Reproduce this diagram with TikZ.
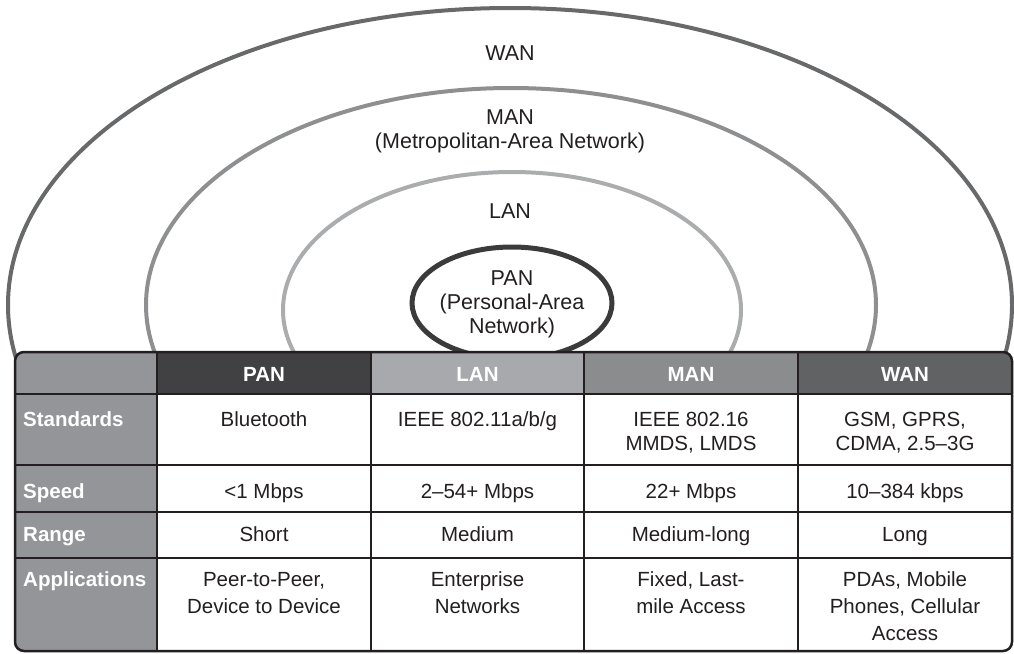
\documentclass[tikz,border=0pt]{standalone}
\usepackage{fontspec}
\setmainfont{Liberation Sans}
\definecolor{wanring}{HTML}{68696B}
\definecolor{manring}{HTML}{8E8F91}
\definecolor{lanring}{HTML}{ABACAE}
\definecolor{panring}{HTML}{3B3B3C}
\definecolor{firstcol}{HTML}{939598}
\definecolor{panhead}{HTML}{414042}
\definecolor{lanhead}{HTML}{A7A9AC}
\definecolor{manhead}{HTML}{8A8C8E}
\definecolor{wanhead}{HTML}{616264}
\definecolor{gridc}{HTML}{231F20}
\definecolor{txt}{HTML}{231F20}
\begin{document}
\begin{tikzpicture}[x=1pt,y=-1pt,
  ring/.style={line width=4pt},
  lbl/.style={anchor=base, inner sep=0pt, align=center, text=txt, font=\fontsize{21.5}{24}\selectfont},
  hdr/.style={anchor=base, inner sep=0pt, text=white, font=\fontsize{20.5}{24}\selectfont\bfseries},
  rowlbl/.style={anchor=base west, inner sep=0pt, text=white, font=\fontsize{20.5}{24}\selectfont\bfseries},
  cell/.style={anchor=base, inner sep=0pt, align=center, text=txt, font=\fontsize{20.5}{24}\selectfont},
  appcell/.style={cell, font=\fontsize{20.5}{27}\selectfont},
  gridline/.style={draw=gridc, line width=2.5pt}]
\useasboundingbox (0,0) rectangle (1014,653);
% rings
\draw[ring, draw=wanring] (510,305) ellipse [x radius=502pt, y radius=297pt];
\draw[ring, draw=manring] (511,305) ellipse [x radius=365pt, y radius=217pt];
\draw[ring, draw=lanring] (512,310) ellipse [x radius=229pt, y radius=138pt];
\draw[line width=5pt, draw=panring, fill=white] (512,303) ellipse [x radius=100pt, y radius=56pt];
% ring labels (anchor = baseline of last line)
\node[lbl] (wanlbl) at (510,60) {WAN};
\node[lbl] (manlbl) at (510,148) {MAN\\(Metropolitan-Area Network)};
\node[lbl] (lanlbl) at (510,218) {LAN};
\node[lbl] (panlbl) at (512,333) {PAN\\(Personal-Area\\Network)};
% table fills
\begin{scope}
\clip[rounded corners=9pt] (15,352) rectangle (1012,651);
\fill[firstcol] (15,352) rectangle (157,651);
\fill[panhead] (157,352) rectangle (371,394);
\fill[lanhead] (371,352) rectangle (584,394);
\fill[manhead] (584,352) rectangle (798,394);
\fill[wanhead] (798,352) rectangle (1012,394);
\fill[white] (157,394) rectangle (1012,651);
\end{scope}
% grid
\foreach \yy in {394,465,512,558} \draw[gridline] (15,\yy) -- (1012,\yy);
\foreach \xx in {157,371,584,798} \draw[gridline] (\xx,352) -- (\xx,651);
\draw[gridline, rounded corners=9pt] (15,352) rectangle (1012,651);
% header
\node[hdr] (hpan) at (264,381) {PAN};
\node[hdr] (hlan) at (477.5,381) {LAN};
\node[hdr] (hman) at (691,381) {MAN};
\node[hdr] (hwan) at (905,381) {WAN};
% row labels
\node[rowlbl] (rstd) at (23,426) {Standards};
\node[rowlbl] (rspd) at (23,498) {Speed};
\node[rowlbl] (rrng) at (23,541) {Range};
\node[rowlbl] (rapp) at (23,586) {Applications};
% standards
\node[cell] (s1) at (264,426) {Bluetooth};
\node[cell] (s2) at (477.5,426) {IEEE 802.11a/b/g};
\node[cell] (s3) at (691,450) {IEEE 802.16\\MMDS, LMDS};
\node[cell] (s4) at (905,450) {GSM, GPRS,\\CDMA, 2.5–3G};
% speed
\node[cell] (p1) at (264,498) {<1 Mbps};
\node[cell] (p2) at (477.5,498) {2–54+ Mbps};
\node[cell] (p3) at (691,498) {22+ Mbps};
\node[cell] (p4) at (905,498) {10–384 kbps};
% range
\node[cell] (g1) at (264,541) {Short};
\node[cell] (g2) at (477.5,541) {Medium};
\node[cell] (g3) at (691,541) {Medium-long};
\node[cell] (g4) at (905,541) {Long};
% applications
\node[appcell] (a1) at (264,613) {Peer-to-Peer,\\Device to Device};
\node[appcell] (a2) at (477.5,613) {Enterprise\\Networks};
\node[appcell] (a3) at (691,613) {Fixed, Last-\\mile Access};
\node[appcell] (a4) at (905,640) {PDAs, Mobile\\Phones, Cellular\\Access};
\end{tikzpicture}
\end{document}
